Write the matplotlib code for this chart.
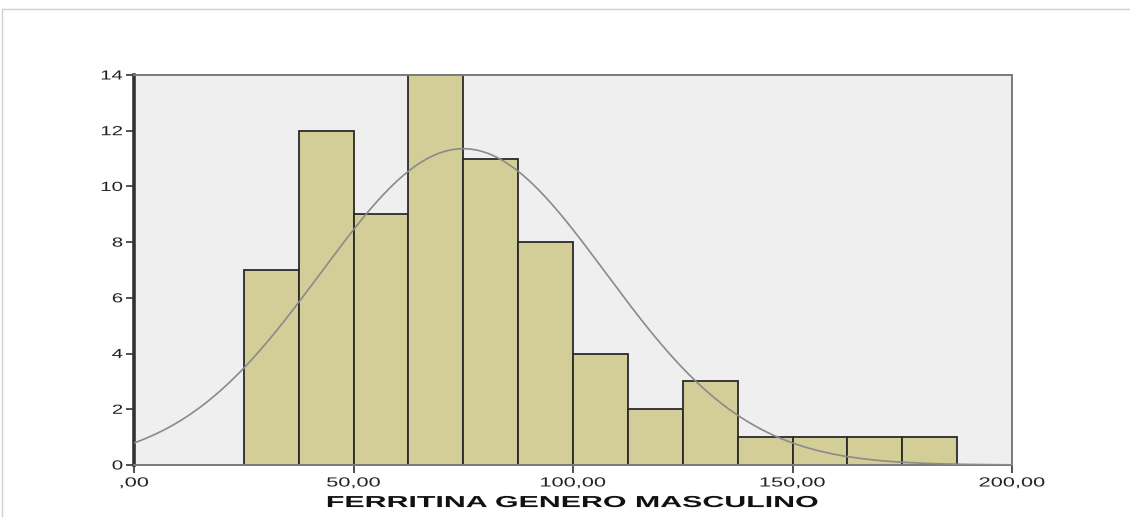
import numpy as np
import matplotlib
matplotlib.use("Agg")
from matplotlib import pyplot as plt
from matplotlib.lines import Line2D
from matplotlib.patheffects import AbstractPathEffect
from matplotlib.transforms import Affine2D

# ---- data -------------------------------------------------------------------
bin_edges = [25.0, 37.5, 50.0, 62.5, 75.0, 87.5, 100.0, 112.5, 125.0,
             137.5, 150.0, 162.5, 175.0, 187.5]
counts = [7, 12, 9, 14, 11, 8, 4, 2, 3, 1, 1, 1, 1]
fit_mean = 75.0
fit_sd = 32.5
x_ticks = [0, 50, 100, 150, 200]
x_tick_labels = [",00", "50,00", "100,00", "150,00", "200,00"]
y_ticks = [0, 2, 4, 6, 8, 10, 12, 14]

BAR = "#D3CE97"
BG = "#EFEFEF"
DARK = "#333333"

plt.rcParams["font.family"] = ["Liberation Sans", "DejaVu Sans"]


class Stretch(AbstractPathEffect):
    """Widen text horizontally (the source image was stretched sideways)."""

    def __init__(self, sx, anchor="center"):
        super().__init__()
        self.sx = sx
        self.anchor = anchor

    def draw_path(self, renderer, gc, tpath, affine, rgbFace=None):
        ext = tpath.get_extents(affine)
        if self.anchor == "right":
            cx = ext.x1
        elif self.anchor == "left":
            cx = ext.x0
        else:
            cx = (ext.x0 + ext.x1) / 2
        t = affine + Affine2D().translate(-cx, 0).scale(self.sx, 1).translate(cx, 0)
        renderer.draw_path(gc, tpath, t, rgbFace)


fig = plt.figure(figsize=(11.3, 5.17), dpi=100)
ax = fig.add_axes([134 / 1130, 1 - 465 / 517, (1012 - 134) / 1130, (465 - 75) / 517])
ax.set_facecolor(BG)

widths = np.diff(bin_edges)
ax.bar(bin_edges[:-1], counts, width=widths, align="edge",
       color=BAR, edgecolor="#2a2a2a", linewidth=1.3, zorder=2)

# normal curve scaled to counts
n = sum(counts)
bw = widths[0]
xs = np.linspace(0, 200, 400)
ys = n * bw / (fit_sd * np.sqrt(2 * np.pi)) * np.exp(-(xs - fit_mean) ** 2 / (2 * fit_sd ** 2))
ax.plot(xs, ys, color="#8a8a8a", lw=1.2, zorder=3)

ax.set_xlim(0, 200)
ax.set_ylim(0, 14)
ax.set_xticks(x_ticks)
ax.set_xticklabels(x_tick_labels)
ax.set_yticks(y_ticks)
ax.tick_params(axis="both", direction="out", length=6, width=1.2, color=DARK,
               labelsize=9.5, labelcolor="#222222", pad=2)
ax.tick_params(axis="x", pad=3)

for lbl in ax.get_xticklabels():
    lbl.set_path_effects([Stretch(1.65, "center")])
for lbl in ax.get_yticklabels():
    lbl.set_path_effects([Stretch(1.55, "right")])

for side in ("top", "right", "bottom"):
    ax.spines[side].set_color("#7a7a7a")
    ax.spines[side].set_linewidth(1.4)
ax.spines["left"].set_color(DARK)
ax.spines["left"].set_linewidth(2.6)

xl = ax.set_xlabel("FERRITINA GENERO MASCULINO", fontsize=11.5, fontweight="bold",
                   color="#111111", labelpad=4)
xl.set_path_effects([Stretch(1.9, "center")])

# outer frame lines (top + left)
fig.add_artist(Line2D([2 / 1130, 1], [1 - 9 / 517, 1 - 9 / 517], color="#d0d0d0", lw=1.0))
fig.add_artist(Line2D([2 / 1130, 2 / 1130], [1 - 9 / 517, 0], color="#d0d0d0", lw=1.0))

fig.savefig("out.png", dpi=100, facecolor="white")
